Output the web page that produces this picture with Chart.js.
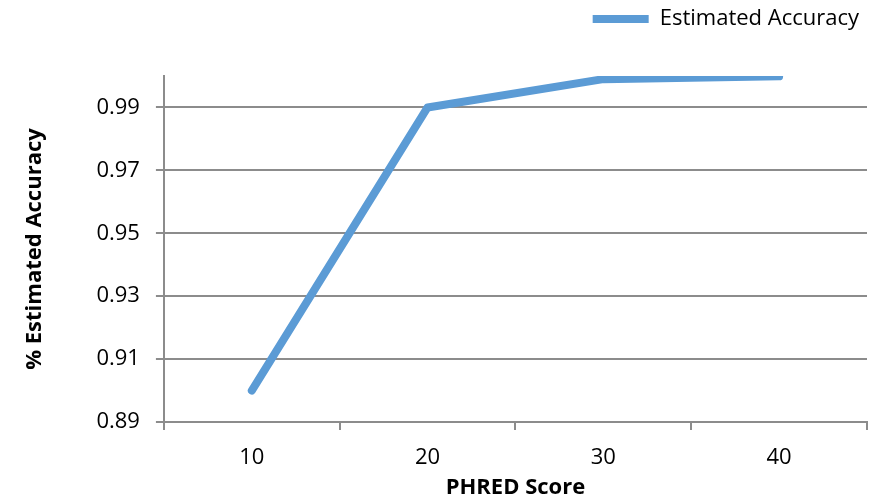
<!DOCTYPE html>
<html>
<head>
<meta charset="utf-8">
<script src="https://cdn.jsdelivr.net/npm/chart.js@4.4.0/dist/chart.umd.min.js"></script>
<style>
  html, body { margin: 0; padding: 0; background: #fff; }
  #wrap { width: 872px; height: 499px; }
</style>
</head>
<body>
<div id="wrap"><canvas id="chart" width="872" height="499"></canvas></div>
<script>
// PHRED score vs estimated accuracy
const phredScores = ['10', '20', '30', '40'];
const accuracyValues = [0.90, 0.99, 0.999, 0.9999];
const yTicks = [0.89, 0.91, 0.93, 0.95, 0.97, 0.99];

const lineBlue = '#5b9bd5';
const gridGray = '#8c8c8c';
const fontFamily = "'Open Sans', 'Liberation Sans', sans-serif";

const ctx = document.getElementById('chart').getContext('2d');

// push the plot area down below the legend
const legendGap = {
    id: 'legendGap',
    beforeInit(chart) {
        const origFit = chart.legend.fit;
        chart.legend.fit = function () {
            origFit.bind(chart.legend)();
            this.height += 36;
        };
    }
};

new Chart(ctx, {
    type: 'line',
    data: {
        labels: phredScores,
        datasets: [{
            label: 'Estimated Accuracy',
            data: accuracyValues,
            borderColor: lineBlue,
            backgroundColor: lineBlue,
            borderWidth: 8,
            borderCapStyle: 'round',
            borderJoinStyle: 'round',
            pointRadius: 0,
            pointStyle: 'line',
            tension: 0
        }]
    },
    options: {
        responsive: false,
        animation: false,
        layout: { padding: { left: 22, right: 5, top: 0, bottom: 0 } },
        plugins: {
            legend: {
                position: 'top',
                align: 'end',
                labels: {
                    usePointStyle: true,
                    pointStyleWidth: 56,
                    color: '#000',
                    font: { family: fontFamily, size: 22 },
                    padding: 8
                }
            },
            tooltip: { enabled: false }
        },
        scales: {
            x: {
                type: 'category',
                offset: true,
                grid: {
                    offset: true,
                    drawOnChartArea: false,
                    color: gridGray,
                    lineWidth: 2,
                    tickLength: 8
                },
                border: { display: true, color: gridGray, width: 2 },
                ticks: { color: '#000', font: { family: fontFamily, size: 22, lineHeight: 1 }, padding: 17 },
                title: {
                    display: true,
                    text: 'PHRED Score',
                    color: '#000',
                    font: { family: fontFamily, size: 22, weight: 'bold', lineHeight: 1 },
                    padding: { top: -9, bottom: 0 }
                }
            },
            y: {
                min: 0.89,
                max: 1.0,
                afterBuildTicks: (axis) => {
                    axis.ticks = yTicks.map(v => ({ value: v }));
                },
                grid: {
                    color: gridGray,
                    lineWidth: 2,
                    tickLength: 8
                },
                border: { display: true, color: gridGray, width: 2 },
                ticks: {
                    color: '#000',
                    font: { family: fontFamily, size: 22 },
                    padding: 16,
                    callback: (v) => v.toFixed(2)
                },
                title: {
                    display: true,
                    text: '% Estimated Accuracy',
                    color: '#000',
                    font: { family: fontFamily, size: 22, weight: 'bold' },
                    padding: { top: 0, bottom: 32 }
                }
            }
        }
    },
    plugins: [legendGap]
});
</script>
</body>
</html>
